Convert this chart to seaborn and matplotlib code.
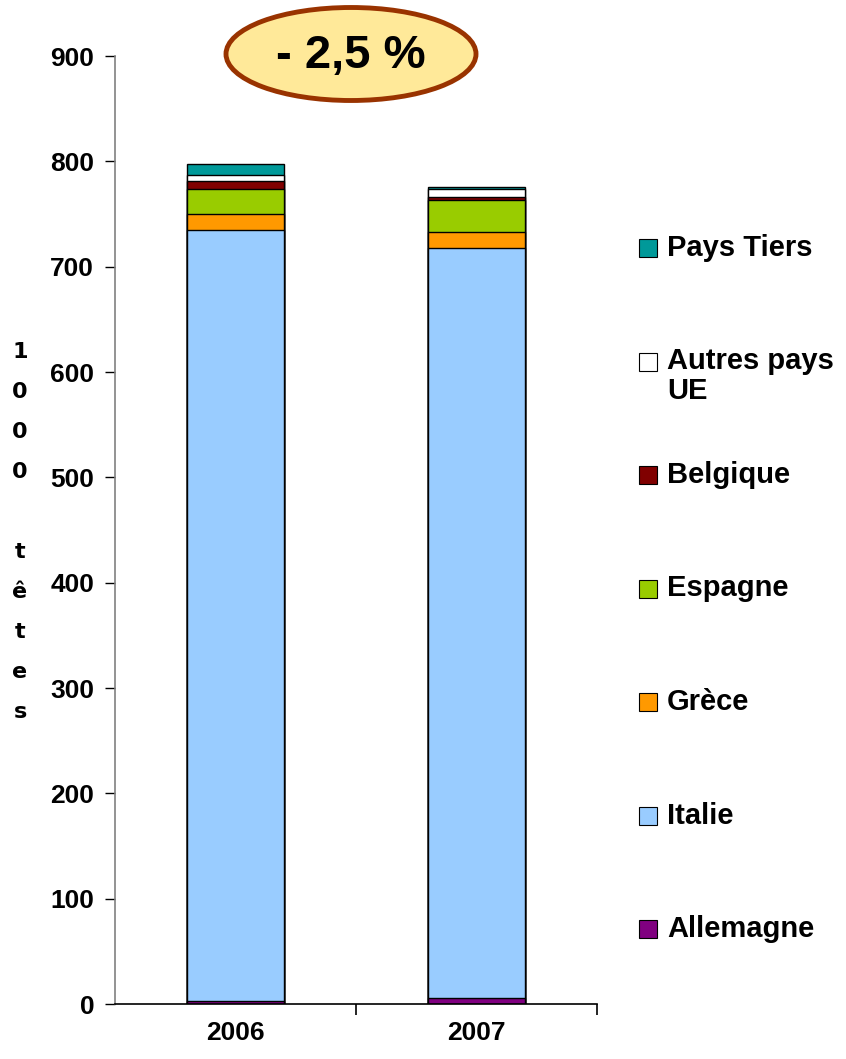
import matplotlib
matplotlib.use("Agg")
import matplotlib.pyplot as plt
from matplotlib.patches import Ellipse, Rectangle
import seaborn as sns
import numpy as np

# Data (1000 têtes)
years = ["2006", "2007"]
series = ["Allemagne", "Italie", "Grèce", "Espagne", "Belgique", "Autres pays\nUE", "Pays Tiers"]
allemagne = [3, 6]
italie = [732, 712]
grece = [15, 15]
espagne = [24, 30]
belgique = [7.5, 3.5]
autres_ue = [6, 7]
pays_tiers = [10, 2]
colors = ["#800080", "#99CCFF", "#FF9900", "#99CC00", "#800000", "#FFFFFF", "#009999"]

sns.set_style("white")
plt.rcParams["font.family"] = ["Liberation Sans", "DejaVu Sans"]
plt.rcParams["font.weight"] = "bold"
plt.rcParams["text.color"] = "black"
plt.rcParams["xtick.color"] = "black"
plt.rcParams["ytick.color"] = "black"

fig = plt.figure(figsize=(8.46, 10.59), dpi=100)
ax = fig.add_axes([0.1359, 0.0519, 0.5697, 0.8952])

values = np.array([allemagne, italie, grece, espagne, belgique, autres_ue, pays_tiers])
cum = values.cumsum(axis=0)

# stacked bars: draw cumulative totals from the top layer down
for i in range(len(series) - 1, -1, -1):
    sns.barplot(x=years, y=cum[i], color=colors[i], saturation=1, width=0.40,
                edgecolor="black", linewidth=1.0, ax=ax)

ax.set_xlim(-0.5, 1.5)
ax.set_ylim(0, 900)
ax.set_yticks(range(0, 901, 100))
ax.tick_params(axis="y", labelsize=19, length=7, width=1, direction="out", left=True, pad=8)
ax.tick_params(axis="x", labelsize=19, length=0, pad=12)
ax.set_xticks([0.5, 1.5], minor=True)
ax.tick_params(axis="x", which="minor", length=8, width=1.2, bottom=True, direction="out")
for lab in ax.get_xticklabels() + ax.get_yticklabels():
    lab.set_fontweight("bold")
ax.set_xlabel("")
ax.set_ylabel("")
for s in ["top", "right"]:
    ax.spines[s].set_visible(False)
ax.spines["left"].set_color("#808080")
ax.spines["bottom"].set_color("black")
ax.spines["left"].set_linewidth(1.2)
ax.spines["bottom"].set_linewidth(1.2)

# vertical stacked y label
ylab = "1000 têtes"
for k, ch in enumerate(ylab):
    fig.text(20 / 846, 1 - (352 + k * 40) / 1059, ch, ha="center", va="center",
             fontsize=16, fontweight="bold", family=["DejaVu Sans"])

# legend drawn on the right, top entry first
for k, i in enumerate(range(len(series) - 1, -1, -1)):
    yc = 248 + k * 113.5
    fig.add_artist(Rectangle((639 / 846, 1 - (yc + 9) / 1059), 18 / 846, 18 / 1059,
                             transform=fig.transFigure, facecolor=colors[i],
                             edgecolor="black", linewidth=0.8))
    fig.text(667 / 846, 1 - (yc - 14) / 1059, series[i], ha="left", va="top",
             fontsize=21, fontweight="bold", linespacing=1.05)

# annotation ellipse
fig.add_artist(Ellipse((351 / 846, 1 - 54 / 1059), 250 / 846, 93 / 1059,
                       transform=fig.transFigure, facecolor="#FFE999",
                       edgecolor="#993300", linewidth=3.5))
fig.text(351 / 846, 1 - 56 / 1059, "- 2,5 %", ha="center", va="center",
         fontsize=34, fontweight="bold")

fig.savefig("out.png", dpi=100)
